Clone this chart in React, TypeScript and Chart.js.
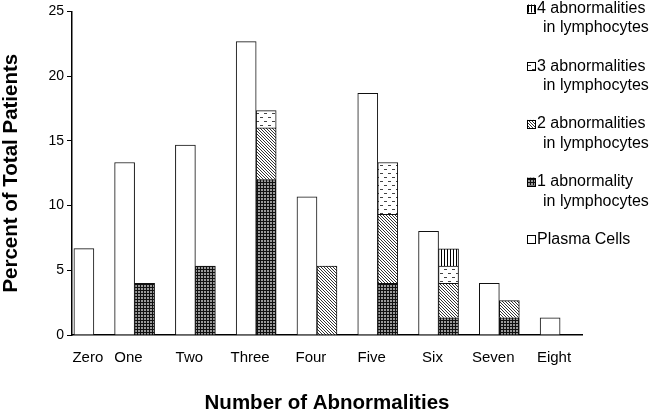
import React, { useEffect, useRef } from 'react';
import { Chart, registerables } from 'chart.js';

Chart.register(...registerables);

// ---- data ----
const categories = ['Zero', 'One', 'Two', 'Three', 'Four', 'Five', 'Six', 'Seven', 'Eight'];
const categoryX = [0.33, 1, 2, 3, 4, 5, 6, 7, 8];
const plasmaCells = [6.67, 13.33, 14.67, 22.67, 10.67, 18.67, 8.0, 4.0, 1.33];
const lymph1 = [null, 4.0, 5.33, 12.0, null, 4.0, 1.33, 1.33, null];
const lymph2 = [null, null, null, 4.0, 5.33, 5.33, 2.67, 1.33, null];
const lymph3 = [null, null, null, 1.33, null, 4.0, 1.33, null, null];
const lymph4 = [null, null, null, null, null, null, 1.33, null, null];
const yTicks = [0, 5, 10, 15, 20, 25];
const legendOrder = [4, 3, 2, 1, 0];

const FONT = '"Liberation Sans", Arial, Helvetica, sans-serif';

function makePattern(w: number, h: number, draw: (g: CanvasRenderingContext2D) => void) {
  const c = document.createElement('canvas');
  c.width = w;
  c.height = h;
  const g = c.getContext('2d') as CanvasRenderingContext2D;
  draw(g);
  return g.createPattern(c, 'repeat') as CanvasPattern;
}

function px(g: CanvasRenderingContext2D, x: number, y: number, color: string) {
  g.fillStyle = color;
  g.fillRect(x, y, 1, 1);
}

const legendPlugin = {
  id: 'customLegend',
  afterDraw(chart: any) {
    const ctx = chart.ctx as CanvasRenderingContext2D;
    ctx.save();
    ctx.font = `16px ${FONT}`;
    ctx.textBaseline = 'middle';
    legendOrder.forEach((dsIndex, i) => {
      const ds = chart.data.datasets[dsIndex];
      const lines = String(ds.label).split('\n');
      const y = 8.5 + i * 57.7;
      const bx = 527;
      const size = 8;
      ctx.fillStyle = ds.backgroundColor;
      ctx.fillRect(bx, y - size / 2, size, size);
      ctx.strokeStyle = '#000';
      ctx.lineWidth = 1;
      ctx.strokeRect(bx + 0.5, Math.round(y - size / 2) + 0.5, size, size);
      ctx.fillStyle = '#000';
      lines.forEach((line, li) => {
        ctx.fillText(line, li === 0 ? 537 : 543, y + li * 19.5);
      });
    });
    ctx.restore();
  },
};

export default function App() {
  const ref = useRef<HTMLCanvasElement | null>(null);

  useEffect(() => {
    if (!ref.current) return;

    const pat1 = makePattern(3, 3, (g) => {
      g.fillStyle = '#111';
      g.fillRect(0, 0, 3, 3);
      g.fillStyle = '#9a9a9a';
      g.fillRect(0, 0, 2, 2);
    });
    const pat2 = makePattern(3, 3, (g) => {
      g.fillStyle = '#fff';
      g.fillRect(0, 0, 3, 3);
      px(g, 0, 0, '#333');
      px(g, 1, 1, '#333');
      px(g, 2, 2, '#333');
    });
    const pat3 = makePattern(8, 8, (g) => {
      g.fillStyle = '#fff';
      g.fillRect(0, 0, 8, 8);
      g.fillStyle = '#444';
      g.fillRect(0, 1, 3, 1);
      g.fillRect(4, 5, 3, 1);
    });
    const pat4 = makePattern(3, 1, (g) => {
      g.fillStyle = '#fff';
      g.fillRect(0, 0, 3, 1);
      g.fillStyle = '#000';
      g.fillRect(0, 0, 1, 1);
    });

    const toPoints = (arr: (number | null)[]) => arr.map((v, i) => ({ x: categoryX[i], y: v }));
    const common = {
      borderColor: '#111',
      borderWidth: 1,
      barThickness: 20,
    };

    const chart = new Chart(ref.current, {
      type: 'bar',
      data: {
        datasets: [
          { ...common, label: 'Plasma Cells', data: toPoints(plasmaCells), backgroundColor: '#fff', stack: 'plasma' },
          { ...common, label: '1 abnormality\nin lymphocytes', data: toPoints(lymph1), backgroundColor: pat1, stack: 'lymph' },
          { ...common, label: '2 abnormalities\nin lymphocytes', data: toPoints(lymph2), backgroundColor: pat2, stack: 'lymph' },
          { ...common, label: '3 abnormalities\nin lymphocytes', data: toPoints(lymph3), backgroundColor: pat3, stack: 'lymph' },
          { ...common, label: '4 abnormalities\nin lymphocytes', data: toPoints(lymph4), backgroundColor: pat4, stack: 'lymph' },
        ] as any,
      },
      options: {
        animation: false,
        responsive: true,
        maintainAspectRatio: false,
        layout: { padding: { top: 5, right: 68, left: 0, bottom: 0 } },
        plugins: {
          legend: { display: false },
          tooltip: { enabled: false },
        },
        scales: {
          x: {
            type: 'linear',
            min: -0.03,
            max: 8.36,
            offset: false,
            grid: { drawOnChartArea: false, drawTicks: false },
            border: { display: true, color: '#000', width: 1.5 },
            afterBuildTicks: (scale: any) => {
              scale.ticks = categoryX.map((v) => ({ value: v - 0.1 }));
            },
            afterFit: (scale: any) => {
              scale.height = 77;
            },
            ticks: {
              autoSkip: false,
              maxRotation: 0,
              padding: 14,
              color: '#000',
              font: { family: FONT, size: 15 },
              callback: (_v: any, i: number) => categories[i],
            },
            title: {
              display: true,
              text: 'Number of Abnormalities',
              color: '#000',
              font: { family: FONT, size: 20.5, weight: 'bold', lineHeight: 0.8 },
              padding: 0,
            },
          },
          y: {
            type: 'linear',
            stacked: true,
            min: 0,
            max: 25,
            grid: { drawOnChartArea: false, drawTicks: true, tickLength: 5, color: '#000' },
            border: { display: true, color: '#000', width: 1.5 },
            afterBuildTicks: (scale: any) => {
              scale.ticks = yTicks.map((v) => ({ value: v }));
            },
            afterFit: (scale: any) => {
              scale.width = 72;
            },
            ticks: {
              padding: 3,
              color: '#000',
              font: { family: FONT, size: 14 },
            },
            title: {
              display: true,
              text: 'Percent of Total Patients',
              color: '#000',
              font: { family: FONT, size: 20.5, weight: 'bold', lineHeight: 1.1 },
              padding: 0,
            },
          },
        },
      } as any,
      plugins: [legendPlugin],
    });

    return () => chart.destroy();
  }, []);

  return (
    <div style={{ position: 'fixed', left: 0, top: 0, width: 650, height: 412, background: '#fff' }}>
      <canvas ref={ref} />
    </div>
  );
}
